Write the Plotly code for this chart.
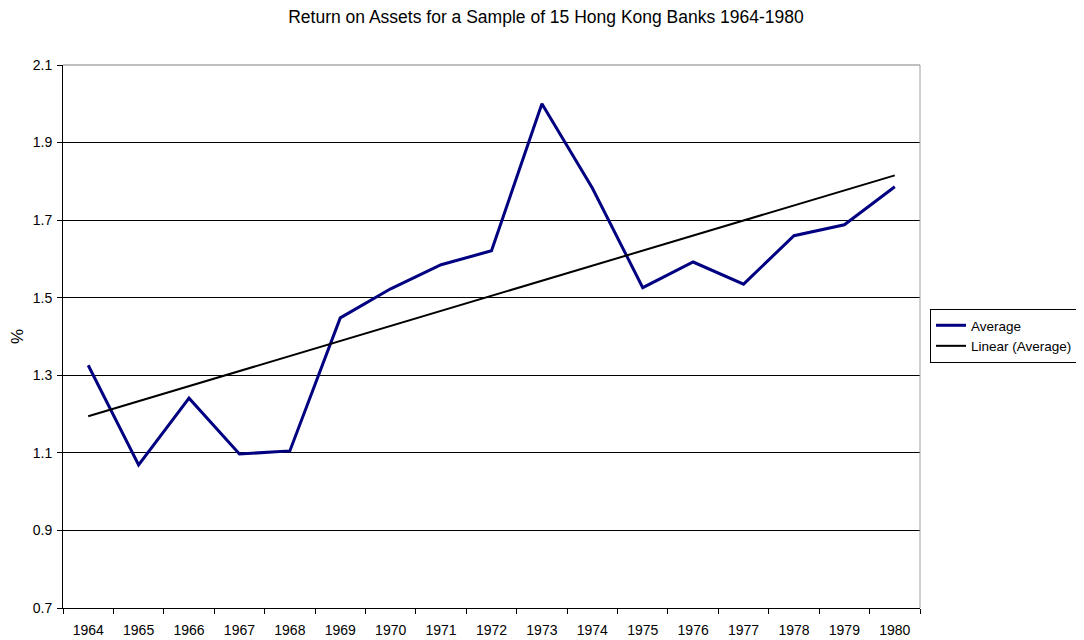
import numpy as np
import plotly.graph_objects as go

years = [str(y) for y in range(1964, 1981)]
average = [1.326, 1.069, 1.241, 1.097, 1.105, 1.448, 1.523, 1.585, 1.621,
           2.000, 1.783, 1.526, 1.592, 1.535, 1.660, 1.688, 1.786]

# linear trend like Excel's "Linear (Average)"
idx = np.arange(len(average))
slope, intercept = np.polyfit(idx, average, 1)
trend = slope * idx + intercept

fig = go.Figure()
fig.add_trace(go.Scatter(
    x=years, y=average, mode='lines', name='Average',
    line=dict(color='#000080', width=3)
))
fig.add_trace(go.Scatter(
    x=years, y=trend, mode='lines', name='Linear (Average)',
    line=dict(color='black', width=2)
))

# page body has an 8px margin, so the figure is a bit smaller than the window
W, H = 1076, 632
fig.update_layout(
    width=W, height=H,
    margin=dict(l=55, r=164, t=57, b=32),
    paper_bgcolor='white', plot_bgcolor='white',
    font=dict(family='Liberation Sans, Arial', size=14, color='black'),
    title=dict(text='Return on Assets for a Sample of 15 Hong Kong Banks 1964-1980',
               x=0.5, xanchor='center', y=0.986, yanchor='middle',
               font=dict(size=17.5)),
    legend=dict(xref='container', yref='container',
                x=922 / W, xanchor='left', y=1 - 328 / H, yanchor='middle',
                bordercolor='black', borderwidth=1, bgcolor='white',
                font=dict(size=13.5), tracegroupgap=2),
    xaxis=dict(
        type='category', range=[-0.5, len(years) - 0.5], automargin=False,
        tickson='boundaries', ticks='outside', ticklen=5,
        tickcolor='black', showgrid=False, showline=True, linecolor='black',
        linewidth=1, zeroline=False, ticklabelstandoff=9,
    ),
    yaxis=dict(
        range=[0.7, 2.1], tickvals=[0.7, 0.9, 1.1, 1.3, 1.5, 1.7, 1.9, 2.1],
        ticktext=['0.7', '0.9', '1.1', '1.3', '1.5', '1.7', '1.9', '2.1'],
        automargin=False,
        ticks='outside', ticklen=5, tickcolor='black',
        showgrid=True, gridcolor='black', gridwidth=1,
        showline=True, linecolor='black', linewidth=1, zeroline=False,
        ticklabelstandoff=2,
        title=dict(text='%', standoff=10),
    ),
    shapes=[
        dict(type='line', xref='paper', yref='paper', x0=1, x1=1, y0=0, y1=1,
             line=dict(color='#a0a0a0', width=1)),
        dict(type='line', xref='paper', yref='paper', x0=0, x1=1, y0=1, y1=1,
             line=dict(color='#808080', width=1)),
    ],
)

fig.write_html("out.html")
